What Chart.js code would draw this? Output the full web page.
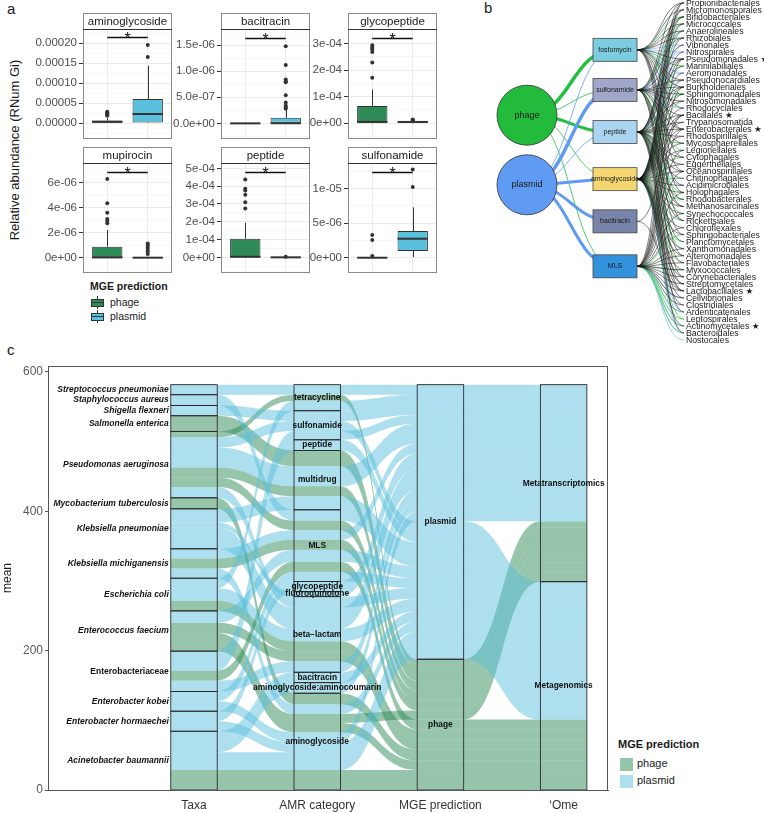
<!DOCTYPE html>
<html>
<head>
<meta charset="utf-8">
<script src="https://cdn.jsdelivr.net/npm/chart.js@4.4.1/dist/chart.umd.min.js"></script>
<style>
  body { margin: 0; width: 764px; height: 813px; position: relative; overflow: hidden; background: #fff;
         font-family: "Liberation Sans", Arial, sans-serif; color: #1a1a1a; }
  canvas, .abs { position: absolute; }
  .abs { white-space: nowrap; }
  .bx { position: absolute; }
</style>
</head>
<body>
<div class="abs" style="left:7px;top:0px;font-size:15px">a</div>
<div class="abs" style="left:484px;top:-1px;font-size:15px">b</div>
<div class="abs" style="left:7px;top:341px;font-size:15px">c</div>
<div class="abs" style="left:14px;top:150px;transform:translate(-50%,-50%) rotate(-90deg);font-size:13px">Relative abundance (RNum Gi)</div>

<!-- panel a legend -->
<div class="abs" style="left:90px;top:280px;font-size:10.5px;font-weight:bold">MGE prediction</div>
<div class="abs" style="left:91px;top:296px;width:13px;height:13px">
  <div class="bx" style="left:6px;top:0;width:1px;height:13px;background:#333"></div>
  <div class="bx" style="left:0;top:3px;width:11px;height:6px;border:1px solid #333;background:#2e8b57"></div>
  <div class="bx" style="left:0;top:6px;width:13px;height:1px;background:#333"></div>
</div>
<div class="abs" style="left:110px;top:296px;font-size:10.5px">phage</div>
<div class="abs" style="left:91px;top:310px;width:13px;height:13px">
  <div class="bx" style="left:6px;top:0;width:1px;height:13px;background:#333"></div>
  <div class="bx" style="left:0;top:3px;width:11px;height:6px;border:1px solid #333;background:#5bc0de"></div>
  <div class="bx" style="left:0;top:6px;width:13px;height:1px;background:#333"></div>
</div>
<div class="abs" style="left:110px;top:310px;font-size:10.5px">plasmid</div>

<!-- panel c legend -->
<div class="abs" style="left:618px;top:738px;font-size:11px;font-weight:bold">MGE prediction</div>
<div class="abs" style="left:620px;top:758px;width:13px;height:13px;background:rgba(46,139,87,0.5)"></div>
<div class="abs" style="left:637px;top:757px;font-size:11px">phage</div>
<div class="abs" style="left:620px;top:775px;width:13px;height:13px;background:rgba(91,192,222,0.5)"></div>
<div class="abs" style="left:637px;top:774px;font-size:11px">plasmid</div>

<canvas id="net" width="284" height="350" style="left:480px;top:0px"></canvas>
<canvas id="alluvial" width="612" height="457" style="left:0px;top:356px"></canvas>

<script>
Chart.defaults.font.family = '"Liberation Sans", Arial, sans-serif';
Chart.defaults.animation = false;

const phageCol = '#2e8b57';
const plasmidCol = '#5bc0de';

// ---------------- panel a: boxplots ----------------
const boxPanels = ['aminoglycoside', 'bacitracin', 'glycopeptide', 'mupirocin', 'peptide', 'sulfonamide'];
const mgeGroups = ['phage', 'plasmid'];
// [phage, plasmid] for each panel
const boxLow  = [[0, 0], [0, 0], [0, 0], [0, 0], [0, 0], [0, 1e-7]];
const boxQ1   = [[5e-7, 1e-6], [0, 0], [2e-6, 3e-6], [0, 0], [1e-6, 0], [0, 9.7e-7]];
const boxMed  = [[3e-6, 2.25e-5], [0, 2e-9], [5e-6, 5e-6], [2e-8, 0], [3e-6, 0], [0, 2.74e-6]];
const boxQ3   = [[6e-6, 6e-5], [0, 1.07e-7], [6.5e-5, 6e-6], [8.8e-7, 0], [1.05e-4, 0], [0, 3.85e-6]];
const boxHigh = [[1.2e-5, 1.43e-4], [0, 2.5e-7], [1.27e-4, 8e-6], [2.2e-6, 0], [1.94e-4, 0], [0, 7.26e-6]];
const phageOut = [
  [1.8e-5, 2e-5, 2.2e-5, 2.4e-5, 2.6e-5, 2.8e-5],
  [],
  [1.71e-4, 2.28e-4, 2.68e-4, 2.77e-4, 2.85e-4, 2.93e-4],
  [2.74e-6, 2.95e-6, 3.08e-6, 3.57e-6, 4.34e-6, 6.27e-6],
  [2.74e-4, 3.09e-4, 3.52e-4, 3.75e-4, 3.85e-4, 4.38e-4],
  [2.5e-7, 2.55e-6, 3.27e-6]
];
const plasmidOut = [
  [1.65e-4, 1.95e-4],
  [2.8e-7, 3.1e-7, 3.4e-7, 4e-7, 5.4e-7, 7.9e-7, 8.1e-7, 8.4e-7, 1.12e-6, 1.48e-6],
  [1e-5, 1.2e-5, 1.4e-5],
  [3e-7, 5e-7, 7e-7, 8.5e-7, 1e-6, 1.12e-6],
  [3e-6],
  [1.02e-5, 1.27e-5]
];
const sigLevel = [2.15e-4, 1.64e-6, 3.2e-4, 6.8e-6, 4.8e-4, 1.24e-5];
const yMin = [-4e-5, -3e-7, -5.9e-5, -1.22e-6, -8.8e-5, -2.2e-6];
const yMax = [2.35e-4, 1.81e-6, 3.54e-4, 7.54e-6, 5.3e-4, 1.365e-5];
const yMajor = [
  [0, 5e-5, 1e-4, 1.5e-4, 2e-4], [0, 5e-7, 1e-6, 1.5e-6], [0, 1e-4, 2e-4, 3e-4],
  [0, 2e-6, 4e-6, 6e-6], [0, 1e-4, 2e-4, 3e-4, 4e-4, 5e-4], [0, 5e-6, 1e-5]
];
const yLabels = [
  ['0.00000', '0.00005', '0.00010', '0.00015', '0.00020'],
  ['0.0e+00', '5.0e-07', '1.0e-06', '1.5e-06'],
  ['0e+00', '1e-04', '2e-04', '3e-04'],
  ['0e+00', '2e-06', '4e-06', '6e-06'],
  ['0e+00', '1e-04', '2e-04', '3e-04', '4e-04', '5e-04'],
  ['0e+00', '5e-06', '1e-05']
];
const yMinor = [
  [-2.5e-5, 2.5e-5, 7.5e-5, 1.25e-4, 1.75e-4, 2.25e-4], [-2.5e-7, 2.5e-7, 7.5e-7, 1.25e-6, 1.75e-6],
  [-5e-5, 5e-5, 1.5e-4, 2.5e-4], [-1e-6, 1e-6, 3e-6, 5e-6, 7e-6],
  [-5e-5, 5e-5, 1.5e-4, 2.5e-4, 3.5e-4, 4.5e-4], [2.5e-6, 7.5e-6, 1.25e-5]
];
const panelLeft = [83, 221, 348];
const panelTop = [13, 147];

const boxExtras = {
  id: 'boxExtras',
  beforeDatasetsDraw(chart) {
    const k = chart.options.plugins.boxExtras.k;
    const {ctx, chartArea: ca, scales: {x, y}} = chart;
    ctx.save();
    ctx.strokeStyle = '#ececec';
    ctx.lineWidth = 0.5;
    yMinor[k].forEach(v => {
      const py = y.getPixelForValue(v);
      ctx.beginPath(); ctx.moveTo(ca.left, py); ctx.lineTo(ca.right, py); ctx.stroke();
    });
    ctx.strokeStyle = '#333';
    ctx.lineWidth = 1;
    mgeGroups.forEach((g, i) => {
      const px = Math.round(x.getPixelForValue(i + 1)) + 0.5;
      ctx.beginPath();
      ctx.moveTo(px, y.getPixelForValue(boxHigh[k][i])); ctx.lineTo(px, y.getPixelForValue(boxQ3[k][i]));
      ctx.moveTo(px, y.getPixelForValue(boxQ1[k][i])); ctx.lineTo(px, y.getPixelForValue(boxLow[k][i]));
      ctx.stroke();
    });
    ctx.restore();
  },
  afterDatasetsDraw(chart) {
    const k = chart.options.plugins.boxExtras.k;
    const {ctx, scales: {x, y}} = chart;
    ctx.save();
    const half = (x.getPixelForValue(1.375) - x.getPixelForValue(0.625)) / 2;
    ctx.strokeStyle = '#333';
    ctx.lineWidth = 2;
    mgeGroups.forEach((g, i) => {
      const px = x.getPixelForValue(i + 1), py = y.getPixelForValue(boxMed[k][i]);
      ctx.beginPath(); ctx.moveTo(px - half, py); ctx.lineTo(px + half, py); ctx.stroke();
    });
    // significance bar
    const sy = Math.round(y.getPixelForValue(sigLevel[k])) + 0.5;
    ctx.lineWidth = 1.3;
    ctx.strokeStyle = '#111';
    ctx.beginPath(); ctx.moveTo(x.getPixelForValue(1), sy); ctx.lineTo(x.getPixelForValue(2), sy); ctx.stroke();
    ctx.fillStyle = '#111';
    ctx.font = '16px "Liberation Sans", Arial, sans-serif';
    ctx.textAlign = 'center';
    ctx.textBaseline = 'alphabetic';
    ctx.fillText('*', x.getPixelForValue(1.5), sy + 6);
    ctx.restore();
  },
  afterDraw(chart) {
    const k = chart.options.plugins.boxExtras.k;
    const {ctx, chartArea: ca} = chart;
    ctx.save();
    ctx.strokeStyle = '#8a8a8a';
    ctx.lineWidth = 1;
    ctx.strokeRect(Math.round(ca.left) + 0.5, Math.round(ca.top) + 0.5, Math.round(ca.right - ca.left) - 1, Math.round(ca.bottom - ca.top) - 1);
    const st = Math.round(ca.top) - 16;
    ctx.fillStyle = '#fff';
    ctx.fillRect(ca.left, st, ca.right - ca.left, 16);
    ctx.strokeRect(Math.round(ca.left) + 0.5, st + 0.5, Math.round(ca.right - ca.left) - 1, 16);
    ctx.strokeStyle = '#333';
    ctx.beginPath(); ctx.moveTo(ca.left, Math.round(ca.top) + 0.5); ctx.lineTo(ca.right, Math.round(ca.top) + 0.5); ctx.stroke();
    ctx.fillStyle = '#1a1a1a';
    ctx.font = '11.5px "Liberation Sans", Arial, sans-serif';
    ctx.textAlign = 'center';
    ctx.textBaseline = 'middle';
    ctx.fillText(boxPanels[k], (ca.left + ca.right) / 2, st + 8.5);
    ctx.restore();
  }
};

boxPanels.forEach((name, k) => {
  const cv = document.createElement('canvas');
  cv.width = 151;
  cv.height = 130;
  cv.style.left = (panelLeft[k % 3] - 60) + 'px';
  cv.style.top = (panelTop[Math.floor(k / 3)] - 2) + 'px';
  document.body.appendChild(cv);
  new Chart(cv, {
    type: 'bar',
    data: {
      datasets: [
        {
          type: 'bar',
          data: mgeGroups.map((g, i) => ({x: i + 1, y: [boxQ1[k][i], boxQ3[k][i]]})),
          backgroundColor: [phageCol, plasmidCol],
          borderColor: '#333',
          borderWidth: 1,
          borderSkipped: false,
          barPercentage: 0.75,
          categoryPercentage: 1
        },
        {
          type: 'scatter',
          data: phageOut[k].map(v => ({x: 1, y: v})).concat(plasmidOut[k].map(v => ({x: 2, y: v}))),
          pointRadius: 2,
          backgroundColor: '#333',
          borderWidth: 0
        }
      ]
    },
    options: {
      responsive: false,
      layout: {autoPadding: false, padding: {top: 18, right: 2, bottom: 2, left: 0}},
      plugins: {legend: {display: false}, tooltip: {enabled: false}, boxExtras: {k: k}},
      scales: {
        x: {
          type: 'linear', min: 0.4, max: 2.6, offset: false,
          afterBuildTicks: s => { s.ticks = [{value: 1}, {value: 2}]; },
          ticks: {display: false},
          grid: {color: '#ebebeb', drawTicks: false, offset: false},
          border: {display: false},
          afterFit: s => { s.height = 0; s.paddingLeft = 0; s.paddingRight = 0; }
        },
        y: {
          min: yMin[k], max: yMax[k],
          afterBuildTicks: s => { s.ticks = yMajor[k].map(v => ({value: v})); },
          ticks: {callback: (v, i) => yLabels[k][i], color: '#4d4d4d', font: {size: 11.5}, padding: 2, autoSkip: false},
          grid: {color: '#ebebeb', tickColor: '#333', tickLength: 4},
          border: {display: false},
          afterFit: s => { s.width = 60; s.paddingTop = 0; s.paddingBottom = 0; }
        }
      }
    },
    plugins: [boxExtras]
  });
});

// ---------------- panel b: network ----------------
const orders = ['Propionibacteriales', 'Micromonosporales', 'Bifidobacteriales', 'Micrococcales', 'Anaerolineales',
  'Rhizobiales', 'Vibrionales', 'Nitrospirales', 'Pseudomonadales ★', 'Marinilabiliales', 'Aeromonadales',
  'Pseudonocardiales', 'Burkholderiales', 'Sphingomonadales', 'Nitrosomonadales', 'Rhodocyclales', 'Bacillales ★',
  'Trypanosomatida', 'Enterobacterales ★', 'Rhodospirillales', 'Mycosphaerellales', 'Legionellales', 'Cytophagales',
  'Eggerthellales', 'Oceanospirillales', 'Chitinophagales', 'Acidimicrobiales', 'Holophagales', 'Rhodobacterales',
  'Methanosarcinales', 'Synechococcales', 'Rickettsiales', 'Chloroflexales', 'Sphingobacteriales', 'Planctomycetales',
  'Xanthomonadales', 'Alteromonadales', 'Flavobacteriales', 'Myxococcales', 'Corynebacteriales', 'Streptomycetales',
  'Lactobacillales ★', 'Cellvibrionales', 'Clostridiales', 'Ardenticatenales', 'Leptospirales', 'Actinomycetales ★',
  'Bacteroidales', 'Nostocales'];
const amrNodes = ['fosfomycin', 'sulfonamide', 'peptide', 'aminoglycoside', 'bacitracin', 'MLS'];
const amrRank = [6.7, 12.4, 18.4, 25.1, 31.1, 37.5];
const amrFill = ['#7ccde0', '#a0a7c8', '#aad4ef', '#f5d772', '#7884a9', '#3392dc'];
const mgeNodes = ['phage', 'plasmid'];
const mgeRank = [16.0, 25.9];
const mgeFill = ['#22bb3c', '#5f9af3'];
const mgeEdge = ['#22c040', '#5f9af3'];
// [mge, amr, width]
const mgeAmrLinks = [[0, 0, 3.5], [0, 2, 3], [0, 1, 0.8], [0, 3, 0.8], [0, 5, 0.8],
  [1, 1, 3.5], [1, 3, 3], [1, 4, 3], [1, 5, 3], [1, 0, 0.8], [1, 2, 0.8]];
// AMR -> order links, one list per AMR node
const amrOrderBlack = [
  [0, 1, 3, 4, 5, 8, 11, 12, 15, 18, 22, 24, 27, 31],
  [0, 2, 5, 8, 11, 12, 13, 14, 16, 18, 20, 26, 29, 33, 36, 39],
  [1, 2, 4, 6, 8, 9, 12, 14, 16, 17, 18, 19, 22, 23, 24, 25, 28, 29, 31, 34, 37, 40, 41, 44, 47],
  [0, 1, 2, 3, 5, 7, 8, 10, 11, 12, 13, 15, 16, 17, 18, 19, 20, 21, 23, 24, 26, 27, 29, 30, 32, 33, 35, 36, 38, 39, 40, 41, 42, 43, 46],
  [16, 41],
  [0, 8, 12, 16, 18, 21, 24, 27, 30, 32, 35, 36, 37, 38, 39, 40, 41, 42, 43]
];
const amrOrderGreen = [
  [2, 9, 13], [3, 21, 28], [3, 13, 20, 27, 30, 35], [4, 9, 14, 22, 25, 28, 31, 34, 37, 45], [], [33, 38, 44, 45, 46, 47]
];
const amrOrderBlue = [
  [6, 7, 10], [4, 7, 10, 15], [5, 11, 26], [6, 44, 47], [], [42, 44, 46, 47, 48]
];
const orderX = 1.784;

const netPlugin = {
  id: 'net',
  beforeDatasetsDraw(chart) {
    const {ctx, scales: {x, y}} = chart;
    ctx.save();
    const x0 = x.getPixelForValue(1) + 22, xEnd = x.getPixelForValue(orderX), xm = (x0 + xEnd) / 2;
    const drawLinks = (lists, colour, lw) => {
      ctx.strokeStyle = colour;
      ctx.lineWidth = lw;
      lists.forEach((targets, a) => {
        const y0 = y.getPixelForValue(amrRank[a]);
        targets.forEach(o => {
          const y1 = y.getPixelForValue(o);
          ctx.beginPath(); ctx.moveTo(x0, y0); ctx.bezierCurveTo(xm, y0, xm, y1, xEnd, y1); ctx.stroke();
        });
      });
    };
    drawLinks(amrOrderBlue, '#8ab4ff', 0.7);
    drawLinks(amrOrderGreen, '#33c94e', 0.7);
    drawLinks(amrOrderBlack, '#1a1a1a', 0.55);
    mgeAmrLinks.forEach(([m, a, w]) => {
      const sx = x.getPixelForValue(0), sy = y.getPixelForValue(mgeRank[m]);
      const tx = x.getPixelForValue(1), ty = y.getPixelForValue(amrRank[a]);
      const mx = (sx + tx) / 2;
      ctx.strokeStyle = mgeEdge[m];
      ctx.lineWidth = w;
      ctx.beginPath(); ctx.moveTo(sx, sy); ctx.bezierCurveTo(mx, sy, mx, ty, tx, ty); ctx.stroke();
    });
    ctx.restore();
  },
  afterDatasetsDraw(chart) {
    const {ctx, scales: {x, y}} = chart;
    ctx.save();
    ctx.textAlign = 'center';
    ctx.textBaseline = 'middle';
    ctx.fillStyle = '#1a1a1a';
    ctx.font = '9px "Liberation Sans", Arial, sans-serif';
    mgeNodes.forEach((m, i) => ctx.fillText(m, x.getPixelForValue(0), y.getPixelForValue(mgeRank[i])));
    amrNodes.forEach((a, i) => {
      const cx = x.getPixelForValue(1), cy = y.getPixelForValue(amrRank[i]);
      ctx.fillStyle = amrFill[i];
      ctx.fillRect(cx - 22, cy - 11.5, 44, 23);
      ctx.strokeStyle = '#444';
      ctx.lineWidth = 0.8;
      ctx.strokeRect(cx - 22, cy - 11.5, 44, 23);
      ctx.fillStyle = '#1a1a1a';
      ctx.font = '7px "Liberation Sans", Arial, sans-serif';
      ctx.fillText(a, cx, cy);
    });
    ctx.textAlign = 'left';
    ctx.font = '8.7px "Liberation Sans", "DejaVu Sans", Arial, sans-serif';
    ctx.fillStyle = '#1a1a1a';
    const lx = x.getPixelForValue(orderX) + 2;
    orders.forEach((o, i) => ctx.fillText(o, lx, y.getPixelForValue(i) + 0.5));
    ctx.restore();
  }
};

new Chart(document.getElementById('net'), {
  type: 'scatter',
  data: {
    datasets: [{
      data: mgeRank.map(r => ({x: 0, y: r})),
      pointRadius: 30,
      backgroundColor: mgeFill,
      borderColor: '#333',
      borderWidth: 0.8,
      clip: false
    }]
  },
  options: {
    responsive: false,
    layout: {autoPadding: false, padding: 0},
    plugins: {legend: {display: false}, tooltip: {enabled: false}},
    scales: {
      x: {display: false, min: -0.534, max: 2.693},
      y: {display: false, min: -0.384, max: 49.40, reverse: true}
    }
  },
  plugins: [netPlugin]
});

// ---------------- panel c: alluvial ----------------
const taxa = ['Streptococcus pneumoniae', 'Staphylococcus aureus', 'Shigella flexneri', 'Salmonella enterica',
  'Pseudomonas aeruginosa', 'Mycobacterium tuberculosis', 'Klebsiella pneumoniae', 'Klebsiella michiganensis',
  'Escherichia coli', 'Enterococcus faecium', 'Enterobacteriaceae', 'Enterobacter kobei',
  'Enterobacter hormaechei', 'Acinetobacter baumannii'];
const amrCats = ['tetracycline', 'sulfonamide', 'peptide', 'multidrug', 'MLS', 'glycopeptide', 'fluoroquinolone',
  'beta\u2212lactam', 'bacitracin', 'aminoglycoside:aminocoumarin', 'aminoglycoside'];
const mgeCats = ['plasmid', 'phage'];
const omeCats = ['Metatranscriptomics', 'Metagenomics'];
const axisNames = ['Taxa', 'AMR category', 'MGE prediction', '\u2018Ome'];
const meanTicks = [0, 200, 400, 600];

// one entry per alluvium
const flowTaxon = [4, 3, 4, 4, 5, 7, 8, 9, 9, 9, 10, 13, 13,
  0, 1, 2, 4, 4, 4, 6, 6, 6, 7, 7, 8, 8, 9, 10, 10, 10, 11, 11, 12, 12, 13, 13, 13];
const flowAmr = [0, 3, 3, 4, 10, 4, 7, 10, 10, 7, 4, 10, 10,
  0, 4, 1, 1, 3, 7, 7, 3, 6, 10, 4, 7, 0, 4, 1, 2, 7, 10, 4, 10, 5, 10, 8, 9];
const flowMge = [1, 1, 1, 1, 1, 1, 1, 1, 1, 1, 1, 1, 1,
  0, 0, 0, 0, 0, 0, 0, 0, 0, 0, 0, 0, 0, 0, 0, 0, 0, 0, 0, 0, 0, 0, 0, 0];
const flowOme = [0, 0, 0, 0, 1, 0, 1, 0, 1, 1, 1, 1, 1,
  0, 1, 0, 1, 0, 1, 0, 1, 0, 1, 0, 1, 0, 1, 0, 1, 0, 0, 1, 1, 0, 1, 1, 0];
const flowMean = [8.6, 22.5, 14.4, 13.8, 15.8, 14.4, 14.4, 12.9, 13.3, 14.4, 14.4, 14.4, 14.4,
  14.4, 15.4, 14.8, 14.4, 28.7, 15.4, 30.7, 19.5, 7.2, 13.9, 13.9, 18.1, 14.4, 17.2, 12.5, 15.4, 15.6,
  14.4, 13.9, 14.4, 14.4, 25.4, 14.9, 15.2];

const axisLevels = [taxa, amrCats, mgeCats, omeCats];
const flowCols = [flowTaxon, flowAmr, flowMge, flowOme];
const guidance = [[0, 1, 2, 3], [1, 0, 2, 3], [2, 3, 1, 0], [3, 2, 1, 0]];
const strataW = 0.377;
const lodeFill = ['rgba(91,192,222,0.5)', 'rgba(46,139,87,0.5)'];

function stackLodes() {
  const n = flowMean.length;
  const total = flowMean.reduce((a, b) => a + b, 0);
  return guidance.map(order => {
    const idx = [...Array(n).keys()].sort((a, b) => {
      for (const g of order) {
        const d = flowCols[g][a] - flowCols[g][b];
        if (d) return d;
      }
      return a - b;
    });
    const top = new Array(n), bot = new Array(n);
    let yy = total;
    idx.forEach(f => { top[f] = yy; yy -= flowMean[f]; bot[f] = yy; });
    return {top, bot};
  });
}

const alluvialPlugin = {
  id: 'alluvial',
  afterDatasetsDraw(chart) {
    const {ctx, scales: {x, y}} = chart;
    const L = stackLodes();
    const hw = (x.getPixelForValue(1 + strataW / 2) - x.getPixelForValue(1 - strataW / 2)) / 2;
    ctx.save();
    // flows between axes
    for (let a = 0; a < 3; a++) {
      const x0 = x.getPixelForValue(a + 1) + hw, x1 = x.getPixelForValue(a + 2) - hw, xm = (x0 + x1) / 2;
      flowMean.forEach((v, f) => {
        const t0 = y.getPixelForValue(L[a].top[f]), b0 = y.getPixelForValue(L[a].bot[f]);
        const t1 = y.getPixelForValue(L[a + 1].top[f]), b1 = y.getPixelForValue(L[a + 1].bot[f]);
        ctx.beginPath();
        ctx.moveTo(x0, t0);
        ctx.bezierCurveTo(xm, t0, xm, t1, x1, t1);
        ctx.lineTo(x1, b1);
        ctx.bezierCurveTo(xm, b1, xm, b0, x0, b0);
        ctx.closePath();
        ctx.fillStyle = lodeFill[flowMge[f]];
        ctx.fill();
      });
    }
    // lodes inside strata
    for (let a = 0; a < 4; a++) {
      const cx = x.getPixelForValue(a + 1);
      flowMean.forEach((v, f) => {
        const t = y.getPixelForValue(L[a].top[f]), b = y.getPixelForValue(L[a].bot[f]);
        ctx.fillStyle = lodeFill[flowMge[f]];
        ctx.fillRect(cx - hw, t, 2 * hw, b - t);
      });
    }
    // strata boxes and labels
    ctx.strokeStyle = '#2b2b2b';
    ctx.lineWidth = 0.9;
    ctx.fillStyle = '#111';
    ctx.textBaseline = 'middle';
    for (let a = 0; a < 4; a++) {
      const cx = x.getPixelForValue(a + 1);
      axisLevels[a].forEach((name, s) => {
        let hi = -Infinity, lo = Infinity;
        flowMean.forEach((v, f) => {
          if (flowCols[a][f] === s) { hi = Math.max(hi, L[a].top[f]); lo = Math.min(lo, L[a].bot[f]); }
        });
        if (hi === -Infinity) return;
        const pt = y.getPixelForValue(hi), pb = y.getPixelForValue(lo);
        ctx.strokeRect(cx - hw, pt, 2 * hw, pb - pt);
        const my = (pt + pb) / 2;
        if (a === 0) {
          ctx.textAlign = 'right';
          ctx.font = (name === 'Enterobacteriaceae' ? '' : 'italic ') + 'bold 8.5px "Liberation Sans", Arial, sans-serif';
          ctx.fillText(name, cx - hw - 2, my);
        } else {
          ctx.textAlign = 'center';
          ctx.font = 'bold 8.4px "Liberation Sans", Arial, sans-serif';
          ctx.fillText(name, cx, my);
        }
      });
    }
    ctx.restore();
  },
  afterDraw(chart) {
    const {ctx, chartArea: ca} = chart;
    ctx.save();
    ctx.strokeStyle = '#555';
    ctx.lineWidth = 1;
    ctx.strokeRect(Math.round(ca.left) + 0.5, Math.round(ca.top) + 0.5, Math.round(ca.right - ca.left) - 1, Math.round(ca.bottom - ca.top));
    ctx.restore();
  }
};

new Chart(document.getElementById('alluvial'), {
  type: 'scatter',
  data: {datasets: []},
  options: {
    responsive: false,
    layout: {autoPadding: false, padding: {top: 10, right: 4, bottom: 0, left: 0}},
    plugins: {legend: {display: false}, tooltip: {enabled: false}},
    scales: {
      x: {
        type: 'linear', min: -0.185, max: 4.36,
        afterBuildTicks: s => { s.ticks = axisNames.map((n, i) => ({value: i + 1})); },
        ticks: {callback: v => axisNames[Math.round(v) - 1], color: '#333', font: {size: 12}, padding: 8, autoSkip: false, maxRotation: 0},
        grid: {display: false, drawTicks: false},
        border: {color: '#555'},
        afterFit: s => { s.height = 23; s.paddingLeft = 0; s.paddingRight = 0; }
      },
      y: {
        min: 0, max: 608.6,
        afterBuildTicks: s => { s.ticks = meanTicks.map(v => ({value: v})); },
        title: {display: true, text: 'mean', color: '#1a1a1a', font: {size: 12}, padding: {top: 0, bottom: 0}},
        ticks: {color: '#5a5a5a', font: {size: 12}, padding: 2, autoSkip: false},
        grid: {drawOnChartArea: false, tickLength: 3, color: '#555'},
        border: {color: '#555'},
        afterFit: s => { s.width = 48; s.paddingTop = 0; s.paddingBottom = 0; }
      }
    }
  },
  plugins: [alluvialPlugin]
});
</script>
</body>
</html>
